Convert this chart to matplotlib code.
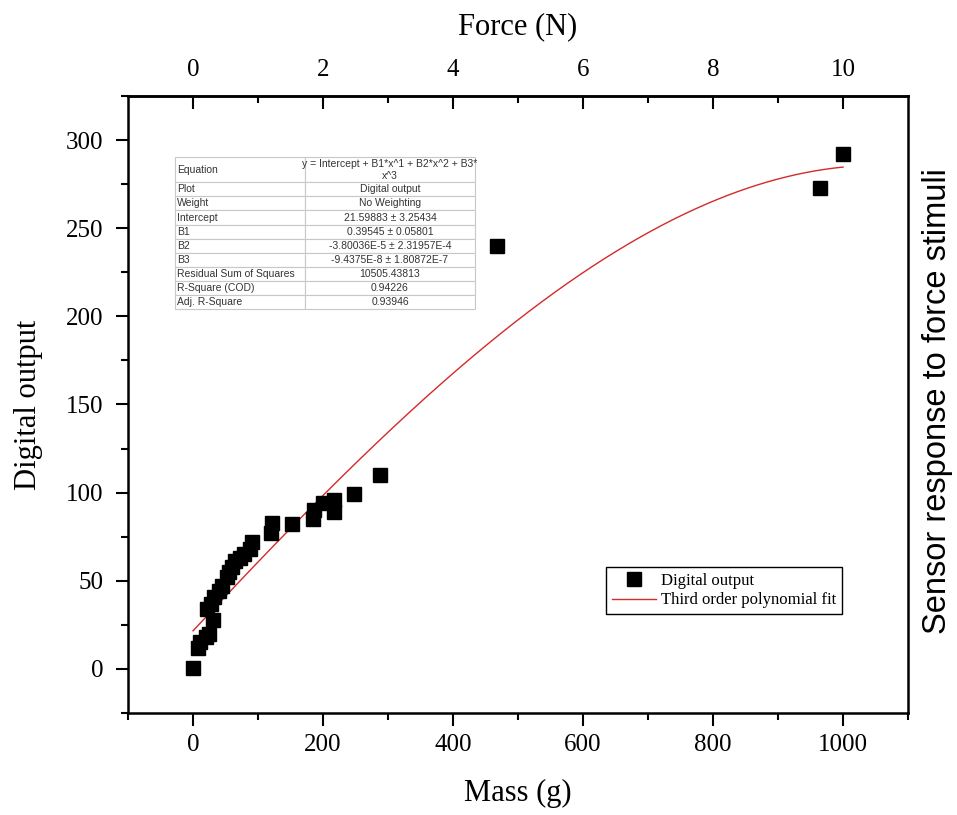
import numpy as np
import matplotlib.pyplot as plt
from matplotlib.lines import Line2D

# --- data ---
mass = [0, 8, 10, 20, 24, 31, 22, 28, 33, 40, 45, 52, 55, 60, 65, 72, 78, 88, 90,
        120, 121, 153, 185, 186, 200, 217, 217, 247, 287, 467, 965, 1000]
output = [0.5, 12, 15, 18, 20, 28, 34, 37, 41, 44, 47, 52, 55, 58, 61, 63, 65, 68, 72,
          77, 83, 82, 85, 90, 94, 89, 96, 99, 110, 240, 273, 292]

# fit coefficients from the table
intercept = 21.59883
b1 = 0.39545
b2 = -3.80036e-5
b3 = -9.4375e-8

table_rows = [
    ["Equation", "y = Intercept + B1*x^1 + B2*x^2 + B3*\nx^3"],
    ["Plot", "Digital output"],
    ["Weight", "No Weighting"],
    ["Intercept", "21.59883 \u00b1 3.25434"],
    ["B1", "0.39545 \u00b1 0.05801"],
    ["B2", "-3.80036E-5 \u00b1 2.31957E-4"],
    ["B3", "-9.4375E-8 \u00b1 1.80872E-7"],
    ["Residual Sum of Squares", "10505.43813"],
    ["R-Square (COD)", "0.94226"],
    ["Adj. R-Square", "0.93946"],
]

plt.rcParams['font.family'] = ['Liberation Serif', 'DejaVu Serif']

fig = plt.figure(figsize=(9.57, 8.15), dpi=100)
ax = fig.add_axes([0.1338, 0.1252, 0.815, 0.757])

# fitted curve over the data range
xs = np.linspace(min(mass), max(mass), 400)
ys = intercept + b1 * xs + b2 * xs**2 + b3 * xs**3
ax.plot(xs, ys, color='#d42a2a', lw=1.0, zorder=2)
ax.plot(mass, output, 's', color='black', markersize=9.5, zorder=3)

ax.set_xlim(-100, 1100)
ax.set_ylim(-25, 325)
ax.set_xticks(np.arange(0, 1001, 200))
ax.set_xticks(np.arange(-100, 1101, 200), minor=True)
ax.set_yticks(np.arange(0, 301, 50))
ax.set_yticks(np.arange(-25, 326, 50), minor=True)

for s in ax.spines.values():
    s.set_linewidth(1.8)

ax.tick_params(axis='both', which='major', direction='out', length=9, width=1.5,
               labelsize=18)
ax.tick_params(axis='both', which='minor', direction='out', length=5, width=1.5)
ax.tick_params(top=False, right=False, which='both')
ax.tick_params(axis='x', pad=6)
ax.tick_params(axis='y', pad=9)

ax.set_xlabel('Mass (g)', fontsize=22, labelpad=17)
ax.set_ylabel('Digital output', fontsize=22, labelpad=16)

# top axis in Newtons
top = ax.secondary_xaxis('top', functions=(lambda m: m / 100.0, lambda f: f * 100.0))
top.set_xticks(np.arange(0, 11, 2))
top.set_xticks(np.arange(1, 10, 2), minor=True)
top.tick_params(which='major', direction='in', length=9, width=1.5, labelsize=18, pad=11)
top.tick_params(which='minor', direction='in', length=5, width=1.5)
top.spines['top'].set_linewidth(1.8)
top.set_xlabel('Force (N)', fontsize=22, labelpad=18)

fig.text(0.980, 0.508, 'Sensor response to force stimuli', rotation=90,
         family='Liberation Sans', fontsize=23.5, ha='center', va='center')

# legend
handles = [
    Line2D([0], [0], marker='s', color='black', linestyle='none', markersize=9.5,
           label='Digital output'),
    Line2D([0], [0], color='#d42a2a', lw=1.0, label='Third order polynomial fit'),
]
leg = ax.legend(handles=handles, loc='lower right', bbox_to_anchor=(0.915, 0.16),
                fontsize=12, fancybox=False, edgecolor='black', framealpha=1,
                borderpad=0.35, handlelength=2.6, handletextpad=0.3, labelspacing=0.2,
                borderaxespad=0)
leg.get_frame().set_linewidth(1.0)

# fit results table
tbl = ax.table(cellText=table_rows, colWidths=[0.433, 0.567], cellLoc='center',
               bbox=[0.060, 0.655, 0.385, 0.246])
tbl.auto_set_font_size(False)
tbl.set_fontsize(7.5)
for (r, c), cell in tbl.get_celld().items():
    cell.set_edgecolor('#c8c8c8')
    cell.set_linewidth(0.8)
    cell.set_facecolor('white')
    cell.get_text().set_fontfamily('Liberation Sans')
    cell.get_text().set_color('#333333')
    cell.PAD = 0.02
    if c == 0:
        cell._loc = 'left'
        cell.get_text().set_ha('left')
    if r == 0:
        cell.set_height(cell.get_height() * 1.8)
tbl.set_zorder(4)

fig.savefig('out.png', dpi=100)
